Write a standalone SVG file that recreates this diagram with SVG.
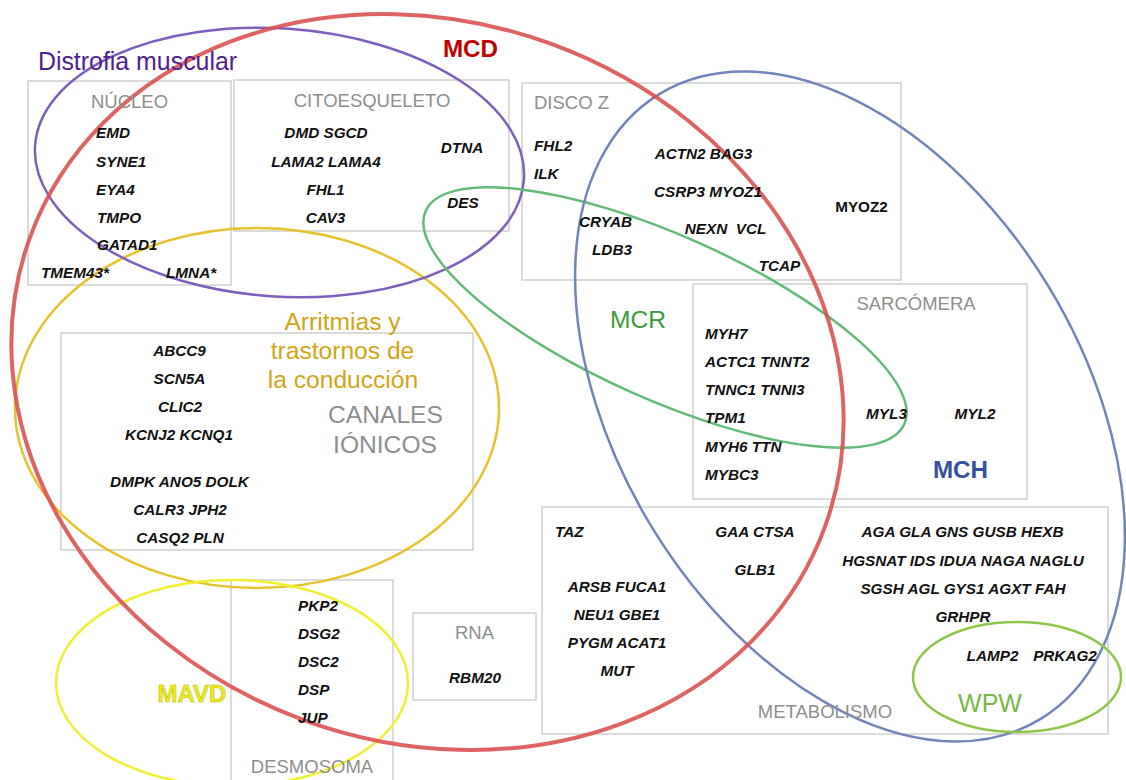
<svg xmlns="http://www.w3.org/2000/svg" width="1126" height="780" viewBox="0 0 1126 780">
<style>
text{font-family:"Liberation Sans",Arial,Helvetica,sans-serif}
.box{fill:none;stroke:#cfcfcf;stroke-width:1.5}
.ttl{fill:#8e8e8e;font-size:18.5px}
.big{fill:#8e8e8e;font-size:24.6px}
.g{fill:#111;font-size:15.3px;font-weight:bold;font-style:italic}
.gu{fill:#111;font-size:15.3px;font-weight:bold}
.m{text-anchor:middle}
.ell{fill:none}
</style>
<rect width="1126" height="780" fill="#fff"/>
<g id="boxes">
<g id="nucleo"><rect class="box" x="28" y="81" width="203" height="204"/></g>
<g id="citoesqueleto"><rect class="box" x="234" y="80" width="275" height="151"/></g>
<g id="discoz"><rect class="box" x="522" y="83" width="379" height="197"/></g>
<g id="sarcomera"><rect class="box" x="693" y="284" width="334" height="215"/></g>
<g id="canales"><rect class="box" x="61" y="333" width="412" height="217"/></g>
<g id="metabolismo"><rect class="box" x="542" y="507" width="566" height="227"/></g>
<g id="desmosoma"><rect class="box" x="231" y="580" width="162" height="215"/></g>
<g id="rna"><rect class="box" x="413" y="613" width="123" height="87"/></g>
</g>
<g id="ellipses">
<g id="el-arritmias"><ellipse class="ell" cx="257" cy="408" rx="242" ry="180" stroke="#e6c22c" stroke-width="2.5"/></g>
<g id="el-mavd"><ellipse class="ell" cx="232" cy="683" rx="176" ry="103" stroke="#f2ef30" stroke-width="2.5"/></g>
<g id="el-distrofia"><ellipse class="ell" rx="245" ry="134" transform="translate(279.5,162.5) rotate(4)" stroke="#7d5fbe" stroke-width="2.5"/></g>
<g id="el-mcr"><ellipse class="ell" rx="262" ry="82" transform="translate(665,317.5) rotate(24)" stroke="#62bb76" stroke-width="2.5"/></g>
<g id="el-mch"><ellipse class="ell" rx="366" ry="232" transform="translate(850,406.5) rotate(58.6)" stroke="#7185bb" stroke-width="2.5"/></g>
<g id="el-wpw"><ellipse class="ell" cx="1017" cy="677" rx="104" ry="55" stroke="#8dc648" stroke-width="2.5"/></g>
<g id="el-mcd"><ellipse class="ell" rx="423" ry="360" transform="translate(427.5,382) rotate(20)" stroke="#d94f4f" stroke-opacity="0.88" stroke-width="4"/></g>
</g>
<g id="connectors"></g>
<g id="labels">
<text x="137.5" y="70" class="m" font-size="24.9" fill="#4f2090">Distrofia muscular</text>
<text x="470.5" y="57" class="m" font-size="24.2" font-weight="bold" fill="#c00000">MCD</text>
<text x="638" y="328" class="m" font-size="24.6" fill="#3c9a3c">MCR</text>
<text x="960.5" y="478" class="m" font-size="24.2" font-weight="bold" fill="#3550a0">MCH</text>
<text x="990" y="712" class="m" font-size="25" fill="#7ab648">WPW</text>
<text x="192" y="702" class="m" font-size="24" font-weight="bold" fill="#eeec1a" stroke="#b8b400" stroke-width="0.5">MAVD</text>
<g fill="#d1a514" font-size="24.6" class="m">
<text x="342.5" y="330" class="m">Arritmias y</text>
<text x="342.5" y="359" class="m">trastornos de</text>
<text x="343" y="388" class="m">la conducción</text>
</g>
</g>
<g id="nucleo-text">
<text class="ttl m" x="129.5" y="108">NÚCLEO</text>
<text class="g" x="96" y="138">EMD</text>
<text class="g" x="96" y="167">SYNE1</text>
<text class="g" x="96" y="195">EYA4</text>
<text class="g" x="97" y="223">TMPO</text>
<text class="g" x="97" y="250">GATAD1</text>
<text class="g" x="41" y="278">TMEM43*</text>
<text class="g" x="166" y="278">LMNA*</text>
</g>
<g id="citoesqueleto-text">
<text class="ttl m" x="372" y="107">CITOESQUELETO</text>
<text class="g m" x="326" y="138">DMD SGCD</text>
<text class="g m" x="326" y="167">LAMA2 LAMA4</text>
<text class="g m" x="325.5" y="195">FHL1</text>
<text class="g m" x="325.5" y="223">CAV3</text>
<text class="g m" x="462" y="153">DTNA</text>
<text class="g m" x="463" y="208">DES</text>
</g>
<g id="discoz-text">
<text class="ttl" x="534" y="109">DISCO Z</text>
<text class="g" x="534" y="151">FHL2</text>
<text class="g" x="534" y="179">ILK</text>
<text class="g m" x="605.5" y="227">CRYAB</text>
<text class="g m" x="612" y="255">LDB3</text>
<text class="g m" x="703.5" y="159">ACTN2 BAG3</text>
<text class="g m" x="708" y="197">CSRP3 MYOZ1</text>
<text class="g m" x="725.5" y="234">NEXN&#160; VCL</text>
<text class="g m" x="779.5" y="271">TCAP</text>
<text class="gu m" x="861.5" y="212">MYOZ2</text>
</g>
<g id="sarcomera-text">
<text class="ttl m" x="916" y="310">SARCÓMERA</text>
<text class="g" x="705" y="339">MYH7</text>
<text class="g" x="705" y="367">ACTC1 TNNT2</text>
<text class="g" x="705" y="395">TNNC1 TNNI3</text>
<text class="g" x="705" y="423">TPM1</text>
<text class="g" x="705" y="452">MYH6 TTN</text>
<text class="g" x="705" y="480">MYBC3</text>
<text class="g m" x="886.5" y="419">MYL3</text>
<text class="g m" x="975" y="419">MYL2</text>
</g>
<g id="canales-text">
<text class="big m" x="385.5" y="423">CANALES</text>
<text class="big m" x="385" y="453">IÓNICOS</text>
<text class="g m" x="179.5" y="356">ABCC9</text>
<text class="g m" x="179.5" y="384">SCN5A</text>
<text class="g m" x="180" y="412">CLIC2</text>
<text class="g m" x="179" y="440">KCNJ2 KCNQ1</text>
<text class="g m" x="179.5" y="487">DMPK ANO5 DOLK</text>
<text class="g m" x="180" y="515">CALR3 JPH2</text>
<text class="g m" x="180" y="543">CASQ2 PLN</text>
</g>
<g id="desmosoma-text">
<text class="ttl m" x="312" y="773">DESMOSOMA</text>
<text class="g" x="298" y="611">PKP2</text>
<text class="g" x="298" y="639">DSG2</text>
<text class="g" x="298" y="667">DSC2</text>
<text class="g" x="298" y="695">DSP</text>
<text class="g" x="298" y="723">JUP</text>
</g>
<g id="rna-text">
<text class="ttl m" x="474.5" y="639">RNA</text>
<text class="g m" x="475" y="683">RBM20</text>
</g>
<g id="metabolismo-text">
<text class="ttl m" x="825" y="718">METABOLISMO</text>
<text class="g" x="555" y="537">TAZ</text>
<text class="g m" x="755" y="537">GAA CTSA</text>
<text class="g m" x="755" y="575">GLB1</text>
<text class="g m" x="617" y="592">ARSB FUCA1</text>
<text class="g m" x="617" y="620">NEU1 GBE1</text>
<text class="g m" x="617" y="648">PYGM ACAT1</text>
<text class="g m" x="617" y="676">MUT</text>
<text class="g m" x="962.5" y="537">AGA GLA GNS GUSB HEXB</text>
<text class="g m" x="963" y="566">HGSNAT IDS IDUA NAGA NAGLU</text>
<text class="g m" x="963" y="594">SGSH AGL GYS1 AGXT FAH</text>
<text class="g m" x="963" y="622">GRHPR</text>
<text class="g m" x="992.5" y="661">LAMP2</text>
<text class="g m" x="1065" y="661">PRKAG2</text>
</g>
</svg>
